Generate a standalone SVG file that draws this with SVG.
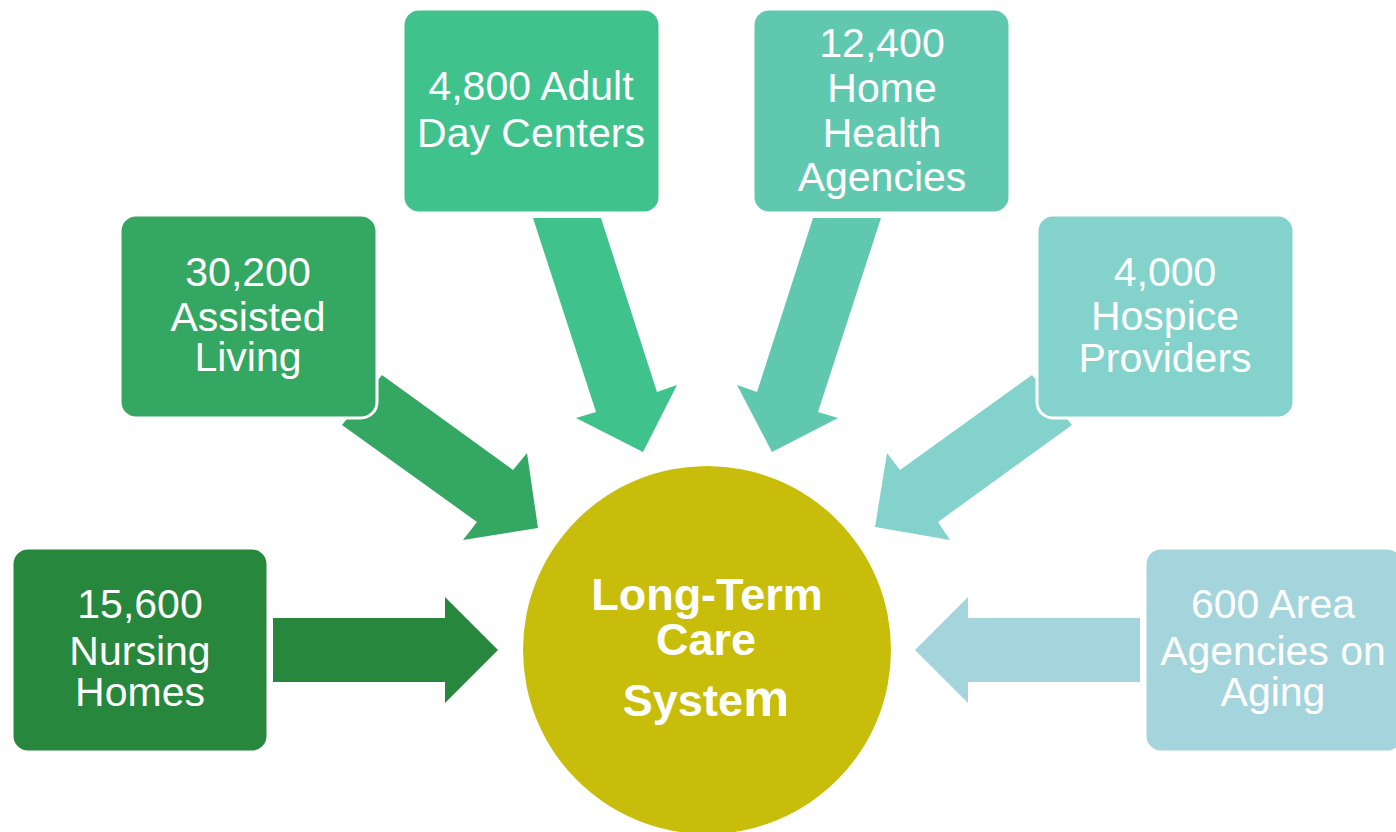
<svg xmlns="http://www.w3.org/2000/svg" width="1396" height="832" viewBox="0 0 1396 832">
<style>
.box{stroke:#ffffff;stroke-width:3}
.t{font-family:"Liberation Sans",Arial,sans-serif;font-size:41px;fill:#ffffff;text-anchor:middle}
.c{font-family:"Liberation Sans",Arial,sans-serif;font-size:45px;font-weight:bold;fill:#ffffff;text-anchor:middle}
.big{font-size:52px}
</style>
<rect width="1396" height="832" fill="#ffffff"/>
<g id="connectors">
<polygon fill="#27873C" points="273,618 445,618 445,597 498,650 445,703 445,682 273,682"/>
<polygon fill="#34A862" points="382,375 513,470 527,453 538,528 463,540 477,522 342,425"/>
<polygon fill="#40C28C" points="533,218 601,218 657,392 677,385 643,452 576,418 596,412"/>
<polygon fill="#61C8B0" points="813,218 881,218 818,412 838,418 772,452 737,385 757,392"/>
<polygon fill="#83D3CC" points="1032,375 1072,425 938,522 950,540 875,527 887,453 900,470"/>
<polygon fill="#A4D5DC" points="1140,618 968,618 968,597 915,650 968,703 968,682 1140,682"/>
</g>
<g id="nursing">
<rect class="box" x="12" y="548" width="256" height="204" rx="16" fill="#27873C"/>
<text class="t" x="140" y="618">15,600</text>
<text class="t" x="140" y="665">Nursing</text>
<text class="t" x="140" y="706">Homes</text>
</g>
<g id="assisted">
<rect class="box" x="120" y="215" width="257" height="203" rx="16" fill="#34A862"/>
<text class="t" x="248" y="286">30,200</text>
<text class="t" x="248" y="331">Assisted</text>
<text class="t" x="248" y="371">Living</text>
</g>
<g id="adultday">
<rect class="box" x="403" y="9" width="257" height="204" rx="16" fill="#40C28C"/>
<text class="t" x="531" y="100">4,800 Adult</text>
<text class="t" x="531" y="147">Day Centers</text>
</g>
<g id="homehealth">
<rect class="box" x="753" y="9" width="257" height="204" rx="16" fill="#61C8B0"/>
<text class="t" x="882" y="57">12,400</text>
<text class="t" x="882" y="102">Home</text>
<text class="t" x="882" y="147">Health</text>
<text class="t" x="882" y="191">Agencies</text>
</g>
<g id="hospice">
<rect class="box" x="1037" y="215" width="257" height="203" rx="16" fill="#83D3CC"/>
<text class="t" x="1165" y="286">4,000</text>
<text class="t" x="1165" y="330">Hospice</text>
<text class="t" x="1165" y="372">Providers</text>
</g>
<g id="areaagencies">
<rect class="box" x="1145" y="548" width="258" height="204" rx="16" fill="#A4D5DC"/>
<text class="t" x="1273" y="618">600 Area</text>
<text class="t" x="1273" y="665">Agencies on</text>
<text class="t" x="1273" y="706">Aging</text>
</g>
<g id="ltc">
<circle cx="707" cy="650" r="184" fill="#C8BD0A"/>
<text class="c" x="707" y="610">Long-Term</text>
<text class="c" x="706" y="655">Care</text>
<text class="c" x="706" y="716">Syste<tspan class="big">m</tspan></text>
</g>
</svg>
